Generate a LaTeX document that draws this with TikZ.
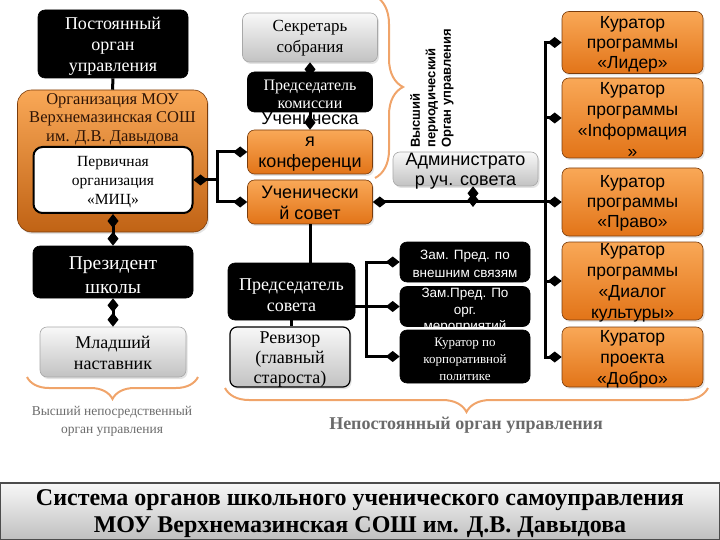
\documentclass[tikz,border=0pt]{standalone}
\usepackage{fontspec}
\setmainfont{Liberation Serif}
\setsansfont{Liberation Sans}
\usetikzlibrary{arrows.meta,decorations.pathreplacing,shadows}
\definecolor{orT}{HTML}{F9A857}
\definecolor{orB}{HTML}{E27418}
\definecolor{orD}{HTML}{7A3C0C}
\definecolor{grT}{HTML}{F8F8F8}
\definecolor{grB}{HTML}{C2C2C2}
\definecolor{grD}{HTML}{A8A8A8}
\definecolor{bracecol}{HTML}{F0A46A}
\definecolor{lblc}{HTML}{6B6B6B}
\definecolor{orgtx}{HTML}{2E1406}
\newcommand\fsz[2]{\fontsize{#1}{#2}\selectfont}
\tikzset{
  box/.style={rounded corners=7pt, inner sep=0pt, line width=0.6pt},
  shad/.style={drop shadow={opacity=0.22, shadow xshift=1.5pt, shadow yshift=-2pt}},
  orbox/.style={box, shad, draw=orD, top color=orT, bottom color=orB},
  blkbox/.style={box, draw=black, fill=black},
  grbox/.style={box, shad, draw=grD, top color=grT, bottom color=grB},
  tserif/.style n args={2}{font=\fsz{#1}{#2}, align=center, inner sep=0pt},
  tsans/.style n args={2}{font=\sffamily\fsz{#1}{#2}, align=center, inner sep=0pt},
  conn/.style={line width=3pt, black},
  dtip/.tip={Diamond[length=14pt,width=11pt]},
  dd/.style={conn, dtip-dtip},
  de/.style={conn, -dtip},
  bracestyle/.style={draw=bracecol, line width=2pt, decorate, decoration={brace, amplitude=#1}},
}
\begin{document}
\begin{tikzpicture}[x=1pt,y=-1pt]
\useasboundingbox (0,0) rectangle (720,540);
% title
\node[draw=black!70, line width=1.5pt, top color=gray!6, bottom color=gray!50, minimum width=719pt, minimum height=57pt, inner sep=0pt] (titlebox) at (360,511.5) {};
\node[tserif={24}{27}, font=\bfseries\fsz{24}{27}] (title) at (360,513.5) {Система органов школьного ученического самоуправления\\МОУ Верхнемазинская СОШ им. Д.В. Давыдова};
% braces
\draw[bracestyle=22pt] (198,377) -- (27,377);
\draw[bracestyle=24pt] (708,388) -- (225,388);
\draw[bracestyle=28pt] (375,-4) -- (375,178);
\node[tserif={13.5}{18}, text=lblc] (lbl1) at (112,421) {Высший непосредственный\\орган управления};
\node[tserif={18}{19}, font=\bfseries\fsz{18}{19}, text=lblc] (lbl2) at (466,425) {Непостоянный орган управления};
\node[tsans={13}{15.5}, font=\sffamily\bfseries\fsz{13}{15.5}, rotate=90, anchor=west, align=left] (vpo) at (432,148) {Высший\\периодический\\Орган управления};
% left column
\node[blkbox, minimum width=150pt, minimum height=68pt] (postoyan) at (113,44) {};
\node[tserif={18}{21}, text=white] (tpostoyan) at (113,46) {Постоянный\\орган\\управления};
\node[orbox, minimum width=190pt, minimum height=142pt, rounded corners=14pt, bottom color=orB!85!black] (org) at (112.5,161) {};
\node[tserif={16.5}{18.5}, text=orgtx] (torg) at (112.5,119) {Организация МОУ\\Верхнемазинская СОШ\\им. Д.В. Давыдова};
\node[box, draw=black, line width=2pt, fill=white, rounded corners=9pt, minimum width=159pt, minimum height=66pt] (prim) at (113,180) {};
\node[tserif={15.5}{19}] (tprim) at (113,182) {Первичная\\организация\\«МИЦ»};
\node[blkbox, minimum width=160pt, minimum height=52pt] (prez) at (113,272) {};
\node[tserif={19.5}{24}, text=white] (tprez) at (113,275) {Президент\\школы};
\node[grbox, minimum width=146pt, minimum height=50pt] (mlad) at (113,352) {};
\node[tserif={18}{21}] (tmlad) at (113,352.5) {Младший\\наставник};
% middle column
\node[grbox, minimum width=135pt, minimum height=49pt] (sekr) at (310,37.5) {};
\node[tserif={17}{21}] (tsekr) at (310,38) {Секретарь\\собрания};
\node[orbox, minimum width=125pt, minimum height=44pt] (konf) at (310,152) {};
\node[tsans={18}{21.5}] (tkonf) at (310,142) {Ученическа\\я\\конференци};
\node[orbox, minimum width=125pt, minimum height=44pt] (sovet) at (310,202) {};
\node[tsans={18}{21}] (tsovet) at (310,203) {Ученически\\й совет};
\draw[dd] (sekr.south) -- (konf.north);
\node[blkbox, minimum width=125pt, minimum height=40pt] (pkom) at (310,92) {};
\node[tserif={16}{18}, text=white] (tpkom) at (310,94) {Председатель\\комиссии};
\node[grbox, minimum width=145pt, minimum height=34pt] (admin) at (465.5,169) {};
\node[tsans={18}{20}] (tadmin) at (465.5,171) {Администрато\\р уч. совета};
% right column
\node[orbox, minimum width=141pt, minimum height=62pt] (lider) at (632.5,42.5) {};
\node[tsans={17.5}{20}] (tlider) at (632.5,44) {Куратор\\программы\\«Лидер»};
\node[orbox, minimum width=141pt, minimum height=80pt] (inf) at (632.5,118) {};
\node[tsans={17.5}{21}] (tinf) at (632.5,119.5) {Куратор\\программы\\«Inформация\\»};
\node[orbox, minimum width=141pt, minimum height=68pt] (pravo) at (632.5,202) {};
\node[tsans={17.5}{20}] (tpravo) at (632.5,203) {Куратор\\программы\\«Право»};
\node[orbox, minimum width=141pt, minimum height=78pt] (dialog) at (632.5,281) {};
\node[tsans={17.5}{21}] (tdialog) at (632.5,282.5) {Куратор\\программы\\«Диалог\\культуры»};
\node[orbox, minimum width=141pt, minimum height=60pt] (dobro) at (632.5,357) {};
\node[tsans={17.5}{21}] (tdobro) at (632.5,359) {Куратор\\проекта\\«Добро»};
% lower middle
\node[blkbox, minimum width=127pt, minimum height=57pt] (predsov) at (291.5,291.5) {};
\node[tserif={18}{20.5}, text=white] (tpredsov) at (291.5,295) {Председатель\\совета};
\node[grbox, draw=black, line width=1.2pt, minimum width=120pt, minimum height=60pt] (reviz) at (290,357) {};
\node[tserif={18}{20}] (treviz) at (290,360) {Ревизор\\(главный\\староста)};
\node[blkbox, minimum width=130pt, minimum height=40pt] (zam1) at (465,262) {};
\node[tsans={13.5}{18}, text=white] (tzam1) at (465,264) {Зам. Пред. по\\внешним связям};
\node[blkbox, minimum width=130pt, minimum height=40pt] (zam2) at (465,306.5) {};
\node[tsans={13.5}{16.5}, text=white] (tzam2) at (465,311) {Зам.Пред. По\\орг.\\мероприятий};
\node[blkbox, minimum width=130pt, minimum height=53pt] (kur) at (465,356.5) {};
\node[tserif={13}{17}, text=white] (tkur) at (465,359) {Куратор по\\корпоративной\\политике};
% connectors
\draw[conn] (postoyan.south) -- (org.north);
\coordinate (lb) at (217,180);
\draw[conn, dtip-] (prim.east) -- (lb);
\draw[de] (lb) |- (konf.west);
\draw[de] (lb) |- (sovet.west);
\draw[dd] (prim.south) -- (prez.north);
\draw[dd] (prez.south) -- (mlad.north);
\draw[dd] (sovet.east) -- (pravo.west);
\coordinate (sp) at (545,202);
\draw[de] (sp) |- (lider.west);
\draw[de] (sp) |- (inf.west);
\draw[de] (sp) |- (dialog.west);
\draw[de] (sp) |- (dobro.west);
\coordinate (ad) at (473,207);
\draw[dd] (admin.south -| ad) -- (ad);
\draw[conn] (sovet.south) -- (sovet.south |- predsov.north);
\draw[conn] (predsov.south) -- (predsov.south |- reviz.north);
\coordinate (pb) at (366,306.5);
\draw[conn] (predsov.east |- pb) -- (pb);
\draw[de] (pb) |- (zam1.west);
\draw[de] (pb) |- (zam2.west);
\draw[de] (pb) |- (kur.west);
\end{tikzpicture}
\end{document}
